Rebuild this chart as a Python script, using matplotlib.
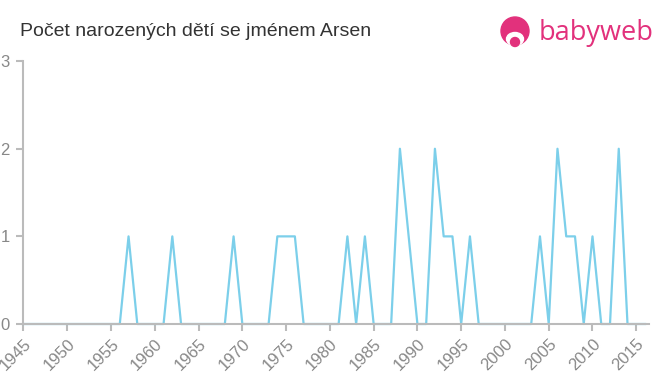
import matplotlib.pyplot as plt
from matplotlib.patches import Circle, Ellipse

years = list(range(1945, 2017))
counts = [0, 0, 0, 0, 0, 0, 0, 0, 0, 0, 0, 0,   # 1945-1956
          1, 0, 0, 0, 0, 1, 0, 0, 0, 0, 0, 0,   # 1957-1968
          1, 0, 0, 0, 0, 1, 1, 1, 0, 0, 0, 0,   # 1969-1980
          0, 1, 0, 1, 0, 0, 0, 2, 1, 0, 0, 2,   # 1981-1992
          1, 1, 0, 1, 0, 0, 0, 0, 0, 0, 0, 1,   # 1993-2004
          0, 2, 1, 1, 0, 1, 0, 0, 2, 0, 0, 0]   # 2005-2016
xticks = list(range(1945, 2020, 5))
yticks = [0, 1, 2, 3]
title = 'Počet narozených dětí se jménem Arsen'

plt.rcParams['font.family'] = ['Liberation Sans', 'DejaVu Sans']
grey = '#bbbbbb'
label_col = '#888888'
pink = '#e2317c'

fig = plt.figure(figsize=(6.6, 3.75), dpi=100)
ax = fig.add_axes([0.0356, 0.136, 0.947, 0.701])

ax.plot(years, counts, color='#7ccfea', linewidth=1.6, clip_on=False)

ax.set_xlim(1945, 2016.4)
ax.set_ylim(0, 3)
ax.set_xticks(xticks)
ax.set_xticklabels([str(y) for y in xticks], rotation=45, ha='right',
                   rotation_mode='anchor')
ax.set_yticks(yticks)

for s in ['top', 'right']:
    ax.spines[s].set_visible(False)
for s in ['left', 'bottom']:
    ax.spines[s].set_color(grey)
    ax.spines[s].set_linewidth(1.5)
ax.tick_params(axis='both', colors=grey, labelcolor=label_col, labelsize=12,
               length=5, width=1.5)
ax.tick_params(axis='y', pad=5)
ax.tick_params(axis='x', pad=4)

fig.text(0.03, 0.903, title, fontsize=14, color='#333333', ha='left',
         va='baseline')

# babyweb logo
lax = fig.add_axes([0.0, 0.0, 1.0, 1.0], facecolor='none')
lax.set_xlim(0, 660)
lax.set_ylim(375, 0)
lax.axis('off')
lax.add_patch(Circle((515, 31), 14, color=pink))
lax.add_patch(Ellipse((515, 39), 17, 13, color='white'))
lax.add_patch(Circle((515, 42), 4.5, color=pink))
lax.text(539, 33, 'babyweb', fontsize=19.5, color=pink, ha='left', va='center',
         family=['Open Sans', 'DejaVu Sans'])

fig.savefig('out.png', dpi=100)
